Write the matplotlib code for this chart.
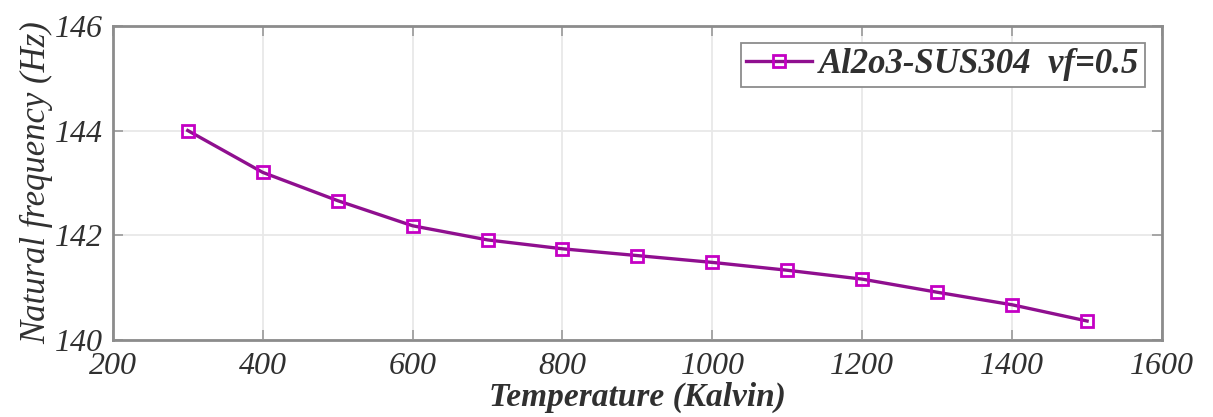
import matplotlib
matplotlib.use("Agg")
import matplotlib.pyplot as plt

temperature = [300, 400, 500, 600, 700, 800, 900, 1000, 1100, 1200, 1300, 1400, 1500]
frequency = [144.0, 143.2, 142.66, 142.18, 141.91, 141.74, 141.61, 141.48, 141.33, 141.16, 140.91, 140.67, 140.36]
x_ticks = [200, 400, 600, 800, 1000, 1200, 1400, 1600]
y_ticks = [140, 142, 144, 146]
series_label = "Al2o3-SUS304  vf=0.5"

plt.rcParams['font.family'] = ['Liberation Serif', 'DejaVu Serif']

fig = plt.figure(figsize=(12.13, 4.17), dpi=100)
ax = fig.add_axes([0.093, 0.185, 0.865, 0.753])

ax.plot(temperature, frequency, color='#8f0f8f', lw=2.4, marker='s', ms=9,
        mfc='none', mec='#c400c4', mew=2.0, label=series_label)

ax.set_xlim(200, 1600)
ax.set_ylim(140, 146)
ax.set_xticks(x_ticks)
ax.set_yticks(y_ticks)
ax.grid(True, color='#e8e8e8', lw=1.3)
ax.set_axisbelow(True)
for s in ax.spines.values():
    s.set_color('#8c8c8c')
    s.set_linewidth(2.0)
ax.tick_params(direction='in', top=True, right=True, length=7, width=1.3,
               colors='#a0a0a0', labelcolor='#303030', labelsize=23)
ax.tick_params(axis='x', pad=9)
ax.tick_params(axis='y', pad=7)
for lab in ax.get_xticklabels() + ax.get_yticklabels():
    lab.set_fontstyle('italic')

ax.set_xlabel('Temperature (Kalvin)', fontsize=24, fontstyle='italic',
              fontweight='bold', color='#303030', labelpad=0)
ax.set_ylabel('Natural frequency (Hz)', fontsize=25, fontstyle='italic',
              color='#303030', labelpad=1)

leg = ax.legend(loc='upper right', prop={'size': 25, 'style': 'italic', 'weight': 'bold'},
                fancybox=False, edgecolor='#8c8c8c', framealpha=1,
                handlelength=1.9, handletextpad=0.2, borderaxespad=0.5,
                borderpad=0.15)
leg.get_frame().set_linewidth(1.3)
for t in leg.get_texts():
    t.set_color('#303030')

fig.savefig('out.png', dpi=100)
